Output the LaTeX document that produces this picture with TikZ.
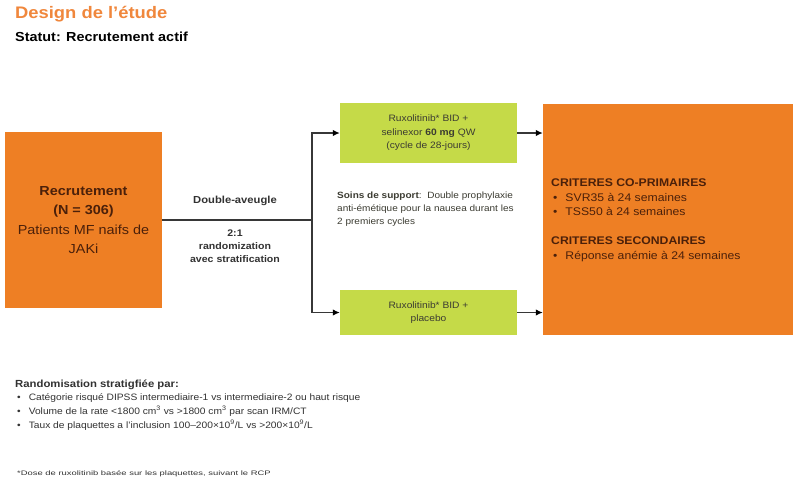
\documentclass[tikz,border=0pt]{standalone}
\usepackage{fontspec}
\setmainfont{Liberation Sans}[FakeStretch=1.1]
\newfontfamily\fnfont{Liberation Sans}[FakeStretch=1.45]
\usetikzlibrary{arrows.meta}
\definecolor{orng}{RGB}{238,127,36}
\definecolor{grn}{RGB}{197,218,72}
\definecolor{ttl}{RGB}{240,135,60}
\definecolor{brn}{RGB}{75,32,10}
\definecolor{gtxt}{RGB}{60,60,50}
\definecolor{lin}{RGB}{55,55,55}
\definecolor{btxt}{RGB}{50,50,50}
\tikzset{
  conn/.style={draw=lin, line width=1.3pt},
  arr/.style={conn, -{Latex[length=7pt,width=6.5pt,color=black]}},
  obox/.style={fill=orng, draw=none, inner sep=0pt},
  gbox/.style={fill=grn, draw=none, inner sep=0pt, align=center, text=gtxt,
    minimum width=177pt, font=\fontsize{9.3}{13.5}\selectfont},
  lbl/.style={inner sep=0pt, align=center, text=btxt, font=\bfseries\fontsize{9.6}{13}\selectfont},
  crit/.style={inner sep=0pt, anchor=base west, text=brn, font=\fontsize{11.1}{13}\selectfont},
  bot/.style={inner sep=0pt, anchor=base west, text=btxt, font=\fontsize{9.3}{12}\selectfont},
}
\begin{document}
\begin{tikzpicture}[x=1pt,y=-1pt]
\useasboundingbox[fill=white] (0,0) rectangle (800,483);

% title
\node[inner sep=0pt, anchor=base west, text=ttl, font=\bfseries\fontsize{16.7}{20}\selectfont] (title) at (15,18.3) {Design de l’étude};
\node[inner sep=0pt, anchor=base west, text=black, font=\bfseries\fontsize{13.1}{16}\selectfont] (statut) at (15,41.7) {Statut: Recrutement actif};

% boxes
\node[obox, minimum width=157pt, minimum height=176pt, align=center, text=brn,
      font=\fontsize{13.1}{19.5}\selectfont] (rec) at (83.5,220)
  {\textbf{Recrutement}\\\textbf{(N = 306)}\\Patients MF naifs de\\JAKi};
\node[gbox, minimum height=60pt] (g1) at (428.5,133)
  {Ruxolitinib* BID +\\selinexor \textbf{60 mg} QW\\(cycle de 28-jours)};
\node[gbox, minimum height=45pt] (g2) at (428.5,312.5)
  {Ruxolitinib* BID +\\placebo};
\node[obox, minimum width=250pt, minimum height=231pt] (res) at (668,219.5) {};

% connectors
\coordinate (j) at (312,220);
\draw[conn] (rec.east) -- (j);
\draw[arr] (j) |- (g1.west);
\draw[arr] (j) |- (g2.west);
\draw[arr] (g1.east) -- (g1.east -| res.west);
\draw[arr] (g2.east) -- (g2.east -| res.west);

% labels
\node[lbl, font=\bfseries\fontsize{10.2}{13}\selectfont] (dbl) at (235,201) {Double-aveugle};
\node[lbl] (rnd) at (235,246) {2:1\\randomization\\avec stratification};
\node[inner sep=0pt, anchor=west, align=left, text=gtxt, font=\fontsize{9.1}{13}\selectfont] (sup) at (337,209)
  {\textbf{Soins de support}:\ \ Double prophylaxie\\anti-émétique pour la nausea durant les\\2 premiers cycles};

% criteria
\node[crit, font=\bfseries\fontsize{11.1}{13}\selectfont] (c1) at (551,186.7) {CRITERES CO-PRIMAIRES};
\node[crit] (c1a) at (553,201.7) {•\hspace{8pt}SVR35 à 24 semaines};
\node[crit] (c1b) at (553,215.7) {•\hspace{8pt}TSS50 à 24 semaines};
\node[crit, font=\bfseries\fontsize{11.1}{13}\selectfont] (c2) at (551,244.7) {CRITERES SECONDAIRES};
\node[crit] (c2a) at (553,259.7) {•\hspace{8pt}Réponse anémie à 24 semaines};

% bottom notes
\node[bot, font=\bfseries\fontsize{10.3}{12}\selectfont] (strat) at (15,387.7) {Randomisation stratigfiée par:};
\node[bot] (s1) at (17,400.3) {•\hspace{8pt}Catégorie risqué DIPSS intermediaire-1 vs intermediaire-2 ou haut risque};
\node[bot] (s2) at (17,414.3) {•\hspace{8pt}Volume de la rate <1800 cm\textsuperscript{3} vs >1800 cm\textsuperscript{3} par scan IRM/CT};
\node[bot] (s3) at (17,428.3) {•\hspace{8pt}Taux de plaquettes a l’inclusion 100–200×10\textsuperscript{9}/L vs >200×10\textsuperscript{9}/L};
\node[inner sep=0pt, anchor=base west, text=btxt, font=\fnfont\fontsize{6.5}{8}\selectfont] (fn) at (17,475.3)
  {*Dose de ruxolitinib basée sur les plaquettes, suivant le RCP};
\end{tikzpicture}
\end{document}
